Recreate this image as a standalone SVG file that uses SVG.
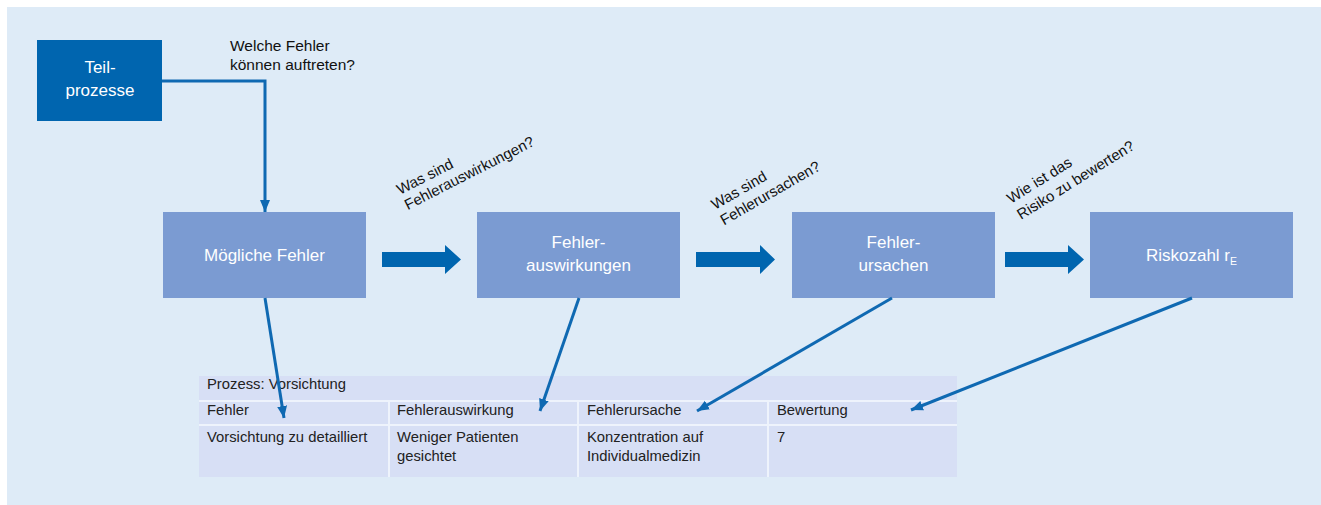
<svg xmlns="http://www.w3.org/2000/svg" width="1321" height="505" viewBox="0 0 1321 505">
<style>
  .bg { fill: #DEEBF7; }
  .box { fill: #7B9BD2; }
  .dark { fill: #0065AF; }
  .wt { font-family: "Liberation Sans", Arial, sans-serif; font-size: 17px; fill: #FFFFFF; text-anchor: middle; }
  .bt { font-family: "Liberation Sans", Arial, sans-serif; font-size: 15.5px; fill: #111111; }
  .rt { font-family: "Liberation Sans", Arial, sans-serif; font-size: 15px; fill: #111111; }
  .tt { font-family: "Liberation Sans", Arial, sans-serif; font-size: 14.8px; fill: #222222; }
  .conn { fill: none; stroke: #0F69B2; stroke-width: 3; }
  .block { fill: #0065AF; }
  .grid { stroke: #EEF3FC; stroke-width: 2; }
</style>
<defs>
  <marker id="ah" markerUnits="userSpaceOnUse" markerWidth="14" markerHeight="12" refX="12" refY="6" orient="auto">
    <path d="M0,1 L12,6 L0,11 Z" fill="#0F69B2"/>
  </marker>
</defs>
<rect class="bg" x="7" y="7" width="1314" height="498"/>

<g id="teilprozesse">
  <rect class="dark" x="37" y="40" width="125" height="81"/>
  <text class="wt" x="100" y="73">Teil-</text>
  <text class="wt" x="100" y="96">prozesse</text>
</g>

<g id="frage1">
  <text class="bt" x="230" y="51">Welche Fehler</text>
  <text class="bt" x="230" y="70">können auftreten?</text>
</g>

<g id="moegliche-fehler">
  <rect class="box" x="163" y="212" width="203" height="86"/>
  <text class="wt" x="264.5" y="261">Mögliche Fehler</text>
</g>

<g id="fehlerauswirkungen">
  <rect class="box" x="477" y="212" width="203" height="86"/>
  <text class="wt" x="578.5" y="248">Fehler-</text>
  <text class="wt" x="578.5" y="271">auswirkungen</text>
</g>

<g id="fehlerursachen">
  <rect class="box" x="792" y="212" width="203" height="86"/>
  <text class="wt" x="893.5" y="248">Fehler-</text>
  <text class="wt" x="893.5" y="271">ursachen</text>
</g>

<g id="riskozahl">
  <rect class="box" x="1090" y="212" width="203" height="86"/>
  <text class="wt" x="1191.5" y="261">Riskozahl r<tspan font-size="10.5" dy="4">E</tspan></text>
</g>

<g id="frage2" transform="translate(400,195) rotate(-27)">
  <text class="rt" x="0" y="0">Was sind</text>
  <text class="rt" x="0" y="17">Fehlerauswirkungen?</text>
</g>
<g id="frage3" transform="translate(715,210) rotate(-30)">
  <text class="rt" x="0" y="0">Was sind</text>
  <text class="rt" x="0" y="18">Fehlerursachen?</text>
</g>
<g id="frage4" transform="translate(1011,204) rotate(-32)">
  <text class="rt" x="0" y="0">Wie ist das</text>
  <text class="rt" x="0" y="19">Risiko zu bewerten?</text>
</g>

<g id="tabelle">
  <rect x="199" y="376" width="758" height="101" fill="#D7DFF5"/>
  <line class="grid" x1="199" y1="401" x2="957" y2="401"/>
  <line class="grid" x1="199" y1="425" x2="957" y2="425"/>
  <line class="grid" x1="389" y1="401" x2="389" y2="477"/>
  <line class="grid" x1="578" y1="401" x2="578" y2="477"/>
  <line class="grid" x1="768" y1="401" x2="768" y2="477"/>
  <text class="tt" x="207" y="389">Prozess: Vorsichtung</text>
  <text class="tt" x="207" y="415">Fehler</text>
  <text class="tt" x="397" y="415">Fehlerauswirkung</text>
  <text class="tt" x="587" y="415">Fehlerursache</text>
  <text class="tt" x="777" y="415">Bewertung</text>
  <text class="tt" x="207" y="442">Vorsichtung zu detailliert</text>
  <text class="tt" x="397" y="442">Weniger Patienten</text>
  <text class="tt" x="397" y="461">gesichtet</text>
  <text class="tt" x="587" y="442">Konzentration auf</text>
  <text class="tt" x="587" y="461">Individualmedizin</text>
  <text class="tt" x="777" y="442">7</text>
</g>

<g id="connectors">
  <polyline class="conn" points="162,81 265,81 265,212" marker-end="url(#ah)"/>
  <polygon class="block" points="382,252 445,252 445,245 461,259.5 445,274 445,267 382,267"/>
  <polygon class="block" points="696,252 760,252 760,245 775,259.5 760,274 760,267 696,267"/>
  <polygon class="block" points="1005,252 1068,252 1068,245 1084,259.5 1068,274 1068,267 1005,267"/>
  <line class="conn" x1="265" y1="298" x2="284" y2="418" marker-end="url(#ah)"/>
  <line class="conn" x1="579" y1="298" x2="540" y2="411" marker-end="url(#ah)"/>
  <line class="conn" x1="892" y1="298" x2="697" y2="411" marker-end="url(#ah)"/>
  <line class="conn" x1="1192" y1="298" x2="911" y2="410" marker-end="url(#ah)"/>
</g>
</svg>
